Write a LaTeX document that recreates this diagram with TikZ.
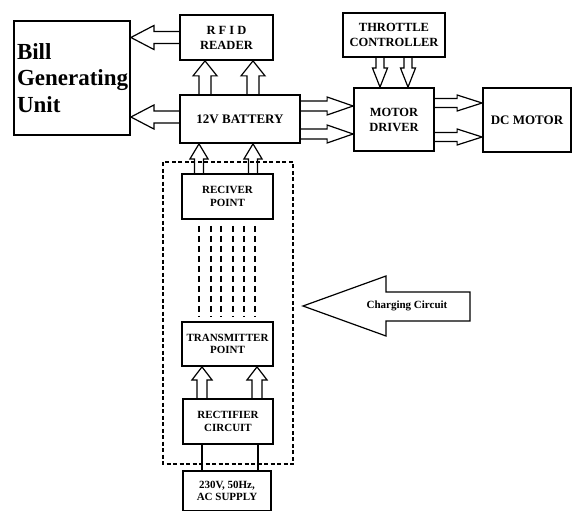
\documentclass[tikz,border=0pt]{standalone}
\usepackage{fontspec}
\setmainfont{Liberation Serif}
\usetikzlibrary{positioning,calc}

\newcommand{\fatarrow}[5]{%
  \coordinate (fa-s) at (#4);
  \coordinate (fa-e) at (#5);
  \coordinate (fa-b) at ($(fa-e)!#3!(fa-s)$);
  \draw[fat] ($(fa-s)!#1!90:(fa-e)$) -- ($(fa-b)!#1!-90:(fa-s)$)
    -- ($(fa-b)!#2!-90:(fa-s)$) -- (fa-e) -- ($(fa-b)!#2!90:(fa-s)$)
    -- ($(fa-b)!#1!90:(fa-s)$) -- ($(fa-s)!#1!-90:(fa-e)$);
}

\begin{document}
\begin{tikzpicture}[
x=1pt,y=-1pt,
block/.style={
  draw,
  line width=1.8pt,
  align=center,
  inner sep=0pt,
  font=\fontsize{12.5}{15}\selectfont\bfseries
},
small/.style={
  block,
  font=\fontsize{11}{12.5}\selectfont\bfseries
},
fat/.style={
  line width=1.2pt,
  line join=miter
},
signal/.style={
  line width=1.4pt,
  dash pattern=on 6pt off 4pt
},
zone/.style={
  line width=1.8pt,
  dash pattern=on 4pt off 2.5pt
}
]
\useasboundingbox (0,0) rectangle (573,511);

\node[block,minimum width=116pt,minimum height=114pt,text width=110pt,align=left,
  font=\rmfamily\fontsize{23}{26.5}\selectfont\bfseries] at (72,78)
  (bill) {Bill\\Generating\\Unit};
\node[block,minimum width=93pt,minimum height=45pt] at (226.5,37.5)
  (rfid) {R F I D\\READER};
\node[block,minimum width=120pt,minimum height=48pt,
  font=\fontsize{13}{15}\selectfont\bfseries] at (240,119)
  (battery) {12V BATTERY};
\node[block,minimum width=102pt,minimum height=44pt] at (394,35)
  (throttle) {THROTTLE\\CONTROLLER};
\node[block,minimum width=80pt,minimum height=63pt] at (394,119.5)
  (driver) {MOTOR\\DRIVER};
\node[block,minimum width=88pt,minimum height=64pt,
  font=\fontsize{13}{15}\selectfont\bfseries] at (527,120)
  (dcmotor) {DC MOTOR};

\draw[zone] (163,162) rectangle (293,464);

\node[small,minimum width=91pt,minimum height=45pt] at (227.5,196.5)
  (receiver) {RECIVER\\POINT};
\node[small,minimum width=91pt,minimum height=44pt] at (227.5,344)
  (transmitter) {TRANSMITTER\\POINT};
\node[small,minimum width=90pt,minimum height=45pt] at (228,421.5)
  (rectifier) {RECTIFIER\\CIRCUIT};
\node[small,minimum width=88pt,minimum height=40pt] at (227,491)
  (acsupply) {230V, 50Hz,\\AC SUPPLY};

\fatarrow{6pt}{12pt}{23pt}{rfid.west}{bill.east |- rfid.west}
\fatarrow{6pt}{12pt}{23pt}{$(battery.west)+(0,-2)$}{$(bill.east |- battery.west)+(0,-2)$}

\foreach \dx in {-35,13}{
  \fatarrow{6pt}{12pt}{15pt}{$(battery.north)+(\dx,0)$}{$(rfid.south)+(\dx+13.5,0)$}
}
\foreach \dx in {-28.5,25.5}{
  \fatarrow{4.5pt}{9pt}{15pt}{$(receiver.north)+(\dx,0)$}{$(battery.south)+(\dx-12.5,0)$}
}
\foreach \dx in {-26,29}{
  \fatarrow{5pt}{10pt}{13pt}{$(rectifier.north)+(\dx,0)$}{$(transmitter.south)+(\dx+0.5,0)$}
}
\foreach \dy in {-13,15}{
  \fatarrow{5pt}{9pt}{26pt}{$(battery.east)+(0,\dy)$}{$(driver.west)+(0,\dy-0.5)$}
}
\foreach \dx in {-14,14}{
  \fatarrow{4pt}{7.5pt}{19pt}{$(throttle.south)+(\dx,0)$}{$(driver.north)+(\dx,0)$}
}
\foreach \dy in {-16.5,17.5}{
  \fatarrow{4.5pt}{8pt}{25pt}{$(driver.east)+(0,\dy)$}{$(dcmotor.west)+(0,\dy-0.5)$}
}

\foreach \dx in {-28.5,-16.5,-6.5,5.5,16.5,27.5}
  \draw[signal] ($(receiver.south)+(\dx,6)$) -- ($(transmitter.north)+(\dx,-5)$);

\foreach \dx in {-25,31}
  \draw[line width=1.5pt] ($(acsupply.north)+(\dx,0)$) -- ($(rectifier.south)+(\dx-1,0)$);

\draw[fat] (470,292) -- (386,292) -- (386,276) -- (303,306) -- (386,336)
  -- (386,321) -- (470,321) -- cycle;
\node[font=\fontsize{11}{13}\selectfont\bfseries] at (407,306) (charging) {Charging Circuit};
\end{tikzpicture}
\end{document}
